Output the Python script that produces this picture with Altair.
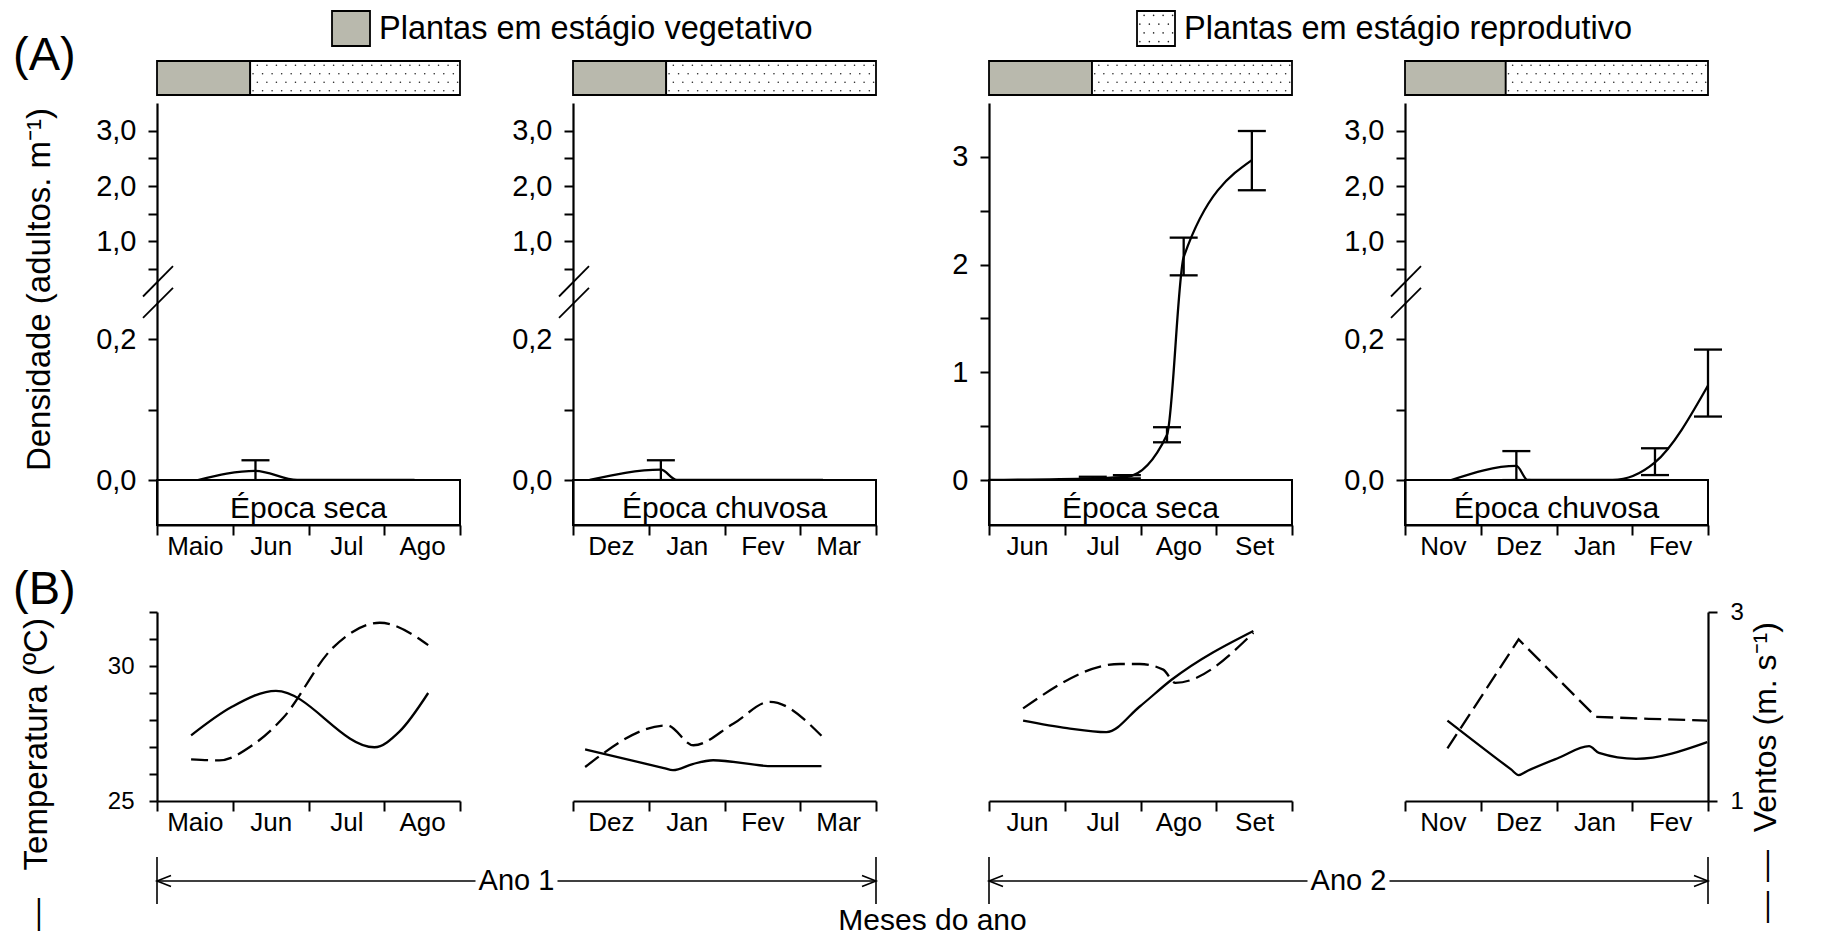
import json
import altair as alt
import pandas as pd

FONT = "Liberation Sans"
GRAY = "#b9b9ad"

# ---------------- data ----------------
months = [["Maio", "Jun", "Jul", "Ago"], ["Dez", "Jan", "Fev", "Mar"],
          ["Jun", "Jul", "Ago", "Set"], ["Nov", "Dez", "Jan", "Fev"]]
epocas = ["Época seca", "Época chuvosa", "Época seca", "Época chuvosa"]
ano_labels = ["Ano 1", "Ano 2"]
legend_labels = ["Plantas em estágio vegetativo", "Plantas em estágio reprodutivo"]
veg_end = [1.23, 1.23, 1.36, 1.33]          # end of vegetative stage (months)

# (A) density of adults (month position within the panel)
dens_x = [[0.54, 1.30, 1.85, 2.60, 3.40],
          [0.22, 1.16, 1.37, 2.40, 3.30],
          [0.00, 1.37, 1.82, 2.35, 2.57, 3.47],
          [0.61, 1.47, 1.62, 2.74, 3.30, 4.00]]
dens_y = [[0, 0.013, 0, 0, 0],
          [0, 0.0146, 0, 0, 0],
          [0, 0.015, 0.03, 0.42, 2.07, 2.97],
          [0, 0.020, 0, 0, 0.025, 0.134]]
err_x = [[1.30], [1.16], [1.37, 1.82, 2.35, 2.57, 3.47], [1.47, 3.30, 4.00]]
err_lo = [[-0.002], [-0.001], [0.0, 0.015, 0.35, 1.90, 2.69], [-0.001, 0.007, 0.09]]
err_hi = [[0.028], [0.028], [0.03, 0.045, 0.49, 2.25, 3.24], [0.041, 0.045, 0.185]]

# (B) temperature (solid) and wind (dashed)
temp_x = [[0.45, 0.99, 1.57, 2.87, 3.20, 3.58],
          [0.16, 1.20, 1.32, 1.58, 1.85, 2.64, 3.28],
          [0.45, 1.03, 1.55, 1.99, 2.41, 3.49],
          [0.56, 1.40, 1.50, 1.62, 2.03, 2.43, 2.56, 3.05, 3.99]]
temp_y = [[27.43, 28.49, 29.08, 26.99, 27.57, 29.00],
          [26.91, 26.22, 26.14, 26.37, 26.51, 26.29, 26.29],
          [27.98, 27.70, 27.55, 28.50, 29.49, 31.30],
          [27.98, 26.17, 25.96, 26.12, 26.60, 27.03, 26.78, 26.56, 27.18]]
wind_x = [[0.45, 0.82, 1.26, 1.66, 2.32, 2.94, 3.58],
          [0.16, 1.24, 1.59, 2.12, 2.60, 3.28],
          [0.45, 1.73, 1.99, 2.30, 2.46, 3.49],
          [0.56, 1.50, 2.52, 3.22, 3.99]]
wind_y = [[1.44, 1.43, 1.59, 1.875, 2.62, 2.886, 2.65],
          [1.36, 1.80, 1.59, 1.82, 2.05, 1.69],
          [1.98, 2.45, 2.45, 2.39, 2.25, 2.78],
          [1.556, 2.71, 1.89, 1.87, 1.85]]
temp_interp = ["monotone", "monotone", "monotone", "monotone"]
wind_interp = ["monotone", "monotone", "monotone", "linear"]

# ---------------- layout constants (pixels) ----------------
W = 303
GAP = 113
PXM = W / 4.0                 # pixels per month
H_STAGE, STAGE_BAR = 42, 34
H_A, A_ZERO, A_P02, A_P05 = 422, 377, 236, 166
H_B, B_TOP = 276, 87
PX_DEG = (H_B - B_TOP) / 7.0
H_ANO, ANO_TOP = 103, 56
CAP = 28
LW = 2.3
BOX_V = -1.0
BOX_TEXT_V = -(414.5 - A_ZERO) / (H_A - A_ZERO)


def a_value(p):
    """value of the broken density scale at pixel p (from panel top)"""
    if p <= A_P05:
        return 0.5 + (A_P05 - p) / A_P05 * 3.0
    if p <= A_P02:
        return 0.5 - (p - A_P05) / (A_P02 - A_P05) * 0.3
    return 0.2 - (p - A_P02) / (A_ZERO - A_P02) * 0.2


def txt(**kw):
    base = dict(font=FONT, color="black")
    base.update(kw)
    return base


def month_axis(i):
    return alt.Axis(
        values=[k / 2 for k in range(9)],
        labelExpr=f"datum.value % 1 == 0.5 ? {json.dumps(months[i])}[floor(datum.value)] : ''",
        tickOpacity={"condition": {"test": "datum.value % 1 == 0", "value": 1}, "value": 0},
        tickSize=10, labelFontSize=26, labelPadding=-2, labelOverlap=False,
        labelFlush=False, labelBound=False, title=None, grid=False, zindex=1)


def stipple(X, Y, x0, x1, v0, v1, ncols, nrows=4):
    dx = (x1 - x0) / ncols
    dv = (v1 - v0) / nrows
    return (alt.Chart(alt.sequence(0, ncols * nrows, as_="i"))
            .transform_calculate(r=f"floor(datum.i / {ncols})", c=f"datum.i % {ncols}")
            .transform_calculate(px=f"{x0} + (datum.c + 0.3 + (datum.r % 2) * 0.45) * {dx}",
                                 pv=f"{v0} + (datum.r + 0.5) * {dv}")
            .mark_circle(size=2.5, color="#222", opacity=1)
            .encode(x=X("px"), y=Y("pv")))


def panel_stage(i):
    xs = alt.Scale(domain=[0, 4], nice=False, zero=False)
    vs = alt.Scale(domain=[0, 1], range=[STAGE_BAR, 0], nice=False, zero=False)
    X = lambda f: alt.X(f, type="quantitative", scale=xs, axis=None)
    Y = lambda f: alt.Y(f, type="quantitative", scale=vs, axis=None)
    fill = alt.Fill("stage:N", scale=alt.Scale(domain=["veg", "rep"], range=[GRAY, "white"]), legend=None)
    df = pd.DataFrame({"x0": [0, veg_end[i]], "x1": [veg_end[i], 4], "y0": [0, 0], "y1": [1, 1],
                       "stage": ["veg", "rep"]})
    bar = alt.Chart(df).mark_rect(stroke="black", strokeWidth=1.8).encode(
        x=X("x0"), x2=alt.X2("x1"), y=Y("y0"), y2=alt.Y2("y1"), fill=fill)
    layers = [bar, stipple(X, Y, veg_end[i], 4, 0, 1, ncols=22)]
    if i in (0, 2):
        k = 0 if i == 0 else 1
        sq_x0 = (332 - 157) / PXM if k == 0 else (1137 - 989) / PXM
        sq_x1 = sq_x0 + 38 / PXM
        v0, v1 = (94 - 45) / STAGE_BAR, (94 - 10) / STAGE_BAR
        ldf = pd.DataFrame({"x0": [sq_x0], "x1": [sq_x1], "y0": [v0], "y1": [v1],
                            "stage": ["veg" if k == 0 else "rep"],
                            "tx": [sq_x1 + 9 / PXM], "ty": [(94 - 38) / STAGE_BAR],
                            "t": [legend_labels[k]]})
        layers.append(alt.Chart(ldf).mark_rect(stroke="black", strokeWidth=1.8).encode(
            x=X("x0"), x2=alt.X2("x1"), y=Y("y0"), y2=alt.Y2("y1"), fill=fill))
        if k == 1:
            layers.append(stipple(X, Y, sq_x0, sq_x1, v0, v1, ncols=4))
        layers.append(alt.Chart(ldf).mark_text(**txt(fontSize=32.5, align="left", baseline="alphabetic"))
                      .encode(x=X("tx"), y=Y("ty"), text="t:N"))
    if i == 0:
        adf = pd.DataFrame({"x": [(13 - 157) / PXM], "y": [(94 - 69) / STAGE_BAR], "t": ["(A)"]})
        layers.append(alt.Chart(adf).mark_text(**txt(fontSize=47, align="left", baseline="alphabetic"))
                      .encode(x=X("x"), y=Y("y"), text="t:N"))
    return alt.layer(*layers).properties(width=W, height=H_STAGE)


def panel_a(i):
    if i != 2:
        ydom = [BOX_V, 0, 0.2, 0.5, 3.5]
        yrng = [H_A, A_ZERO, A_P02, A_P05, 0]
        yvals = [0, 0.1, 0.2, 0.5, 1, 1.5, 2, 2.5, 3]
        ylab = "indexof([0, 0.2, 1, 2, 3], datum.value) >= 0 ? replace(format(datum.value, '.1f'), '.', ',') : ''"
    else:
        ydom = [BOX_V, 0, 3.5]
        yrng = [H_A, A_ZERO, 0]
        yvals = [0, 0.5, 1, 1.5, 2, 2.5, 3]
        ylab = "datum.value % 1 == 0 ? format(datum.value, 'd') : ''"
    xs = alt.Scale(domain=[0, 4], nice=False, zero=False)
    ys = alt.Scale(domain=ydom, range=yrng, nice=False, zero=False)
    kw = dict(values=yvals, labelExpr=ylab, tickSize=9, labelFontSize=29, labelPadding=12,
              grid=False, zindex=1, labelOverlap=False)
    if i == 0:
        yaxis = alt.Axis(title="Densidade (adultos. m⁻¹)", titleX=-118, titleY=186, titleAngle=270,
                         titleAlign="center", titleBaseline="middle", titleFontSize=33,
                         titleFontWeight="normal", **kw)
    else:
        yaxis = alt.Axis(title=None, **kw)
    xaxis = month_axis(i)
    X = lambda f: alt.X(f, type="quantitative", scale=xs, axis=xaxis)
    Y = lambda f: alt.Y(f, type="quantitative", scale=ys, axis=yaxis)

    line = alt.Chart(pd.DataFrame({"x": dens_x[i], "y": dens_y[i]})).mark_line(
        interpolate="monotone", color="black", strokeWidth=LW).encode(x=X("x"), y=Y("y"))
    edf = pd.DataFrame({"x": err_x[i], "lo": err_lo[i], "hi": err_hi[i]})
    rules = alt.Chart(edf).mark_rule(color="black", strokeWidth=LW).encode(
        x=X("x"), y=Y("lo"), y2=alt.Y2("hi"))
    caps = alt.Chart(edf).transform_fold(["lo", "hi"], as_=["end", "v"]).mark_point(
        shape="M-1,0L1,0", size=CAP * CAP, filled=False, color="black", strokeWidth=LW,
        opacity=1).encode(x=X("x"), y=Y("v"))
    bdf = pd.DataFrame({"x0": [0], "x1": [4], "y0": [BOX_V], "y1": [0],
                        "tx": [2], "ty": [BOX_TEXT_V], "t": [epocas[i]]})
    box = alt.Chart(bdf).mark_rect(fill="white", stroke="black", strokeWidth=2).encode(
        x=X("x0"), x2=alt.X2("x1"), y=Y("y0"), y2=alt.Y2("y1"))
    boxt = alt.Chart(bdf).mark_text(**txt(fontSize=30, align="center", baseline="alphabetic")).encode(
        x=X("tx"), y=Y("ty"), text="t:N")
    layers = [line, rules, caps, box, boxt]
    if i != 2:
        brk = pd.DataFrame({"x": [-14 / PXM, -14 / PXM], "x2": [16 / PXM, 16 / PXM],
                            "y": [a_value(193.5), a_value(214.8)],
                            "y2": [a_value(163.2), a_value(184.8)]})
        layers.append(alt.Chart(brk).mark_rule(color="black", strokeWidth=1.8).encode(
            x=X("x"), x2=alt.X2("x2"), y=Y("y"), y2=alt.Y2("y2")))
    return alt.layer(*layers).properties(width=W, height=H_A)


def panel_b(i):
    xs = alt.Scale(domain=[0, 4], nice=False, zero=False)
    ts = alt.Scale(domain=[25, 32], range=[H_B, B_TOP], nice=False, zero=False)
    ws = alt.Scale(domain=[1, 3], range=[H_B, B_TOP], nice=False, zero=False)
    X = alt.X("x:Q", scale=xs, axis=month_axis(i))
    taxis = None
    waxis = None
    if i == 0:
        taxis = alt.Axis(values=list(range(25, 33)),
                         labelExpr="datum.value % 5 == 0 ? datum.label : ''",
                         tickSize=8, labelFontSize=24, labelPadding=15, grid=False, zindex=1,
                         labelOverlap=False,
                         title="—\u00a0\u00a0\u00a0Temperatura (ºC)", titleX=-121, titleY=249,
                         titleAngle=270, titleAlign="center", titleBaseline="middle",
                         titleFontSize=33, titleFontWeight="normal")
    if i == 3:
        waxis = alt.Axis(orient="right", values=[1, 2, 3], format="d", tickSize=9, labelFontSize=24,
                         labelPadding=13, grid=False, zindex=1,
                         title="—\u00a0—\u00a0\u00a0Ventos (m. s⁻¹)", titleX=57, titleY=247,
                         titleAngle=270, titleAlign="center", titleBaseline="middle",
                         titleFontSize=32, titleFontWeight="normal")
    tline = alt.Chart(pd.DataFrame({"x": temp_x[i], "temp": temp_y[i]})).mark_line(
        interpolate=temp_interp[i], color="black", strokeWidth=LW).encode(
        x=X, y=alt.Y("temp:Q", scale=ts, axis=taxis))
    tlayer = tline
    if i == 0:
        bdf = pd.DataFrame({"x": [(13 - 157) / PXM], "temp": [32 + (611 - 603) / PX_DEG],
                            "t": ["(B)"]})
        btext = alt.Chart(bdf).mark_text(**txt(fontSize=47, align="left", baseline="alphabetic")).encode(
            x=X, y=alt.Y("temp:Q", scale=ts, axis=taxis), text="t:N")
        tlayer = alt.layer(tline, btext)
    wline = alt.Chart(pd.DataFrame({"x": wind_x[i], "wind": wind_y[i]})).mark_line(
        interpolate=wind_interp[i], color="black", strokeWidth=LW, strokeDash=[17, 7]).encode(
        x=X, y=alt.Y("wind:Q", scale=ws, axis=waxis))
    return alt.layer(tlayer, wline).resolve_scale(y="independent").properties(width=W, height=H_B)


def panel_ano(k):
    span = 2 * W + GAP
    xs = alt.Scale(domain=[0, 1], range=[0, span], nice=False, zero=False)
    ys = alt.Scale(domain=[0, 1], range=[H_ANO, ANO_TOP], nice=False, zero=False)
    X = lambda f: alt.X(f, type="quantitative", scale=xs, axis=None)
    Y = lambda f: alt.Y(f, type="quantitative", scale=ys, axis=None)
    av = (903 - 880) / (H_ANO - ANO_TOP)
    half = 41 / span
    ends = pd.DataFrame({"x": [0.0, 1.0], "y0": [0, 0], "y1": [1, 1]})
    bars = alt.Chart(ends).mark_rule(color="black", strokeWidth=1.6).encode(
        x=X("x"), y=Y("y0"), y2=alt.Y2("y1"))
    segs = pd.DataFrame({"x0": [0, 0.5 + half], "x1": [0.5 - half, 1], "y": [av, av]})
    line = alt.Chart(segs).mark_rule(color="black", strokeWidth=1.6).encode(
        x=X("x0"), x2=alt.X2("x1"), y=Y("y"))
    lh = alt.Chart(pd.DataFrame({"x": [0.0], "y": [av]})).mark_point(
        shape="M1,-0.8L-1,0L1,0.8", size=196, filled=False, color="black", strokeWidth=1.6,
        opacity=1, xOffset=7).encode(x=X("x"), y=Y("y"))
    rh = alt.Chart(pd.DataFrame({"x": [1.0], "y": [av]})).mark_point(
        shape="M-1,-0.8L1,0L-1,0.8", size=196, filled=False, color="black", strokeWidth=1.6,
        opacity=1, xOffset=-7).encode(x=X("x"), y=Y("y"))
    tdf = pd.DataFrame({"x": [0.5], "y": [av], "t": [ano_labels[k]]})
    text = alt.Chart(tdf).mark_text(**txt(fontSize=29, align="center", baseline="middle")).encode(
        x=X("x"), y=Y("y"), text="t:N")
    layers = [bars, line, lh, rh, text]
    if k == 0:
        mdf = pd.DataFrame({"x": [(span + GAP / 2) / span], "y": [(903 - 920) / (H_ANO - ANO_TOP)],
                            "t": ["Meses do ano"]})
        layers.append(alt.Chart(mdf).mark_text(**txt(fontSize=30, align="center", baseline="middle"))
                      .encode(x=X("x"), y=Y("y"), text="t:N"))
    return alt.layer(*layers).properties(width=W, height=H_ANO)


def empty():
    return alt.Chart(pd.DataFrame({"x": [0]})).mark_point(opacity=0).encode(
        x=alt.X("x:Q", axis=None), y=alt.Y("x:Q", axis=None)).properties(width=W, height=H_ANO)


cells = ([panel_stage(i) for i in range(4)] + [panel_a(i) for i in range(4)]
         + [panel_b(i) for i in range(4)] + [panel_ano(0), empty(), panel_ano(1), empty()])

chart = (alt.concat(*cells, columns=4, spacing={"row": 0, "column": GAP}, bounds="flush")
         .properties(padding={"left": 5, "top": 2, "right": 5, "bottom": 5}, background="white")
         .configure_view(stroke=None)
         .configure_axis(domainColor="black", domainWidth=2.2, tickColor="black", tickWidth=2,
                         labelColor="black", labelFont=FONT, titleFont=FONT, titleColor="black"))

chart.save("out.html", embed_options={"renderer": "svg", "actions": False})
